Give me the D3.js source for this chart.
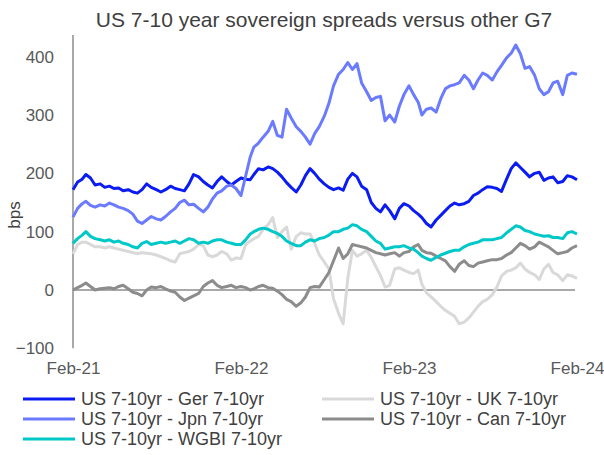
<!DOCTYPE html>
<html>
<head>
<meta charset="utf-8">
<script src="https://cdn.jsdelivr.net/npm/d3@7"></script>
<style>
  html, body { margin: 0; padding: 0; background: #ffffff; }
  svg { display: block; }
  text { font-family: "Liberation Sans", Arial, Helvetica, sans-serif; }
</style>
</head>
<body>
<svg id="chart" width="604" height="455"></svg>
<script>
// ---------------- DATA ----------------
const title = "US 7-10 year sovereign spreads versus other G7";
const yAxisLabel = "bps";
const xTickLabels = ["Feb-21", "Feb-22", "Feb-23", "Feb-24"];
const xTickDates = ["2021-02-01", "2022-02-01", "2023-02-01", "2024-02-01"];
const yTicks = [-100, 0, 100, 200, 300, 400];
// observations roughly every ten days (1st, 11th, 21st of each month), Feb-21 .. Feb-24
const sampleDays = [1, 11, 21];
const firstMonth = "2021-02";

const seriesNames = [
  "US 7-10yr - Ger 7-10yr",
  "US 7-10yr - UK 7-10yr",
  "US 7-10yr - Jpn 7-10yr",
  "US 7-10yr - Can 7-10yr",
  "US 7-10yr - WGBI 7-10yr"
];

const ger = [172,185,190,198,192,180,182,176,178,174,175,170,172,168,166,172,182,176,172,168,
  172,178,174,172,170,182,198,194,186,180,175,186,194,186,180,186,192,190,189,198,
  208,206,211,208,202,194,184,176,168,180,196,208,200,190,182,176,172,175,171,190,
  200,194,178,172,150,140,134,146,136,122,140,148,144,136,130,124,114,108,120,128,
  136,144,149,146,148,152,162,166,172,177,176,174,169,190,208,218,210,202,194,200,
  202,188,192,194,184,186,196,194,189];

const uk = [62,78,82,82,78,74,74,72,74,72,70,68,66,64,62,64,63,62,60,57,
  54,50,48,62,64,66,70,78,76,60,57,60,66,62,51,55,54,78,84,88,
  92,104,112,124,90,100,108,70,92,98,96,96,80,60,48,36,-15,-40,-58,20,
  68,58,62,68,56,40,25,5,8,36,38,34,30,28,34,10,-5,-12,-20,-28,
  -35,-40,-45,-58,-55,-48,-38,-28,-20,-16,-8,5,24,32,34,38,46,36,30,26,
  18,36,44,30,26,16,26,24,20];

const jpn = [125,140,148,152,145,142,146,144,149,146,142,140,136,130,118,114,120,126,122,120,
  126,134,140,150,154,146,147,140,134,142,156,166,170,178,180,174,162,195,228,245,
  252,262,272,289,265,262,310,295,280,272,262,250,268,280,298,320,350,370,378,390,
  378,388,355,340,325,330,332,290,300,288,315,335,350,335,322,300,310,312,305,328,
  345,350,352,355,368,360,345,360,372,368,360,374,385,398,406,420,405,380,383,368,
  345,335,340,355,358,335,368,372,370];

const can = [0,4,8,12,6,0,2,3,4,2,6,8,2,-4,-6,-10,0,5,4,6,
  2,-2,-4,-12,-18,-14,-10,-6,6,12,16,8,4,6,8,4,6,4,0,2,
  6,8,4,3,-2,-8,-16,-20,-28,-22,-12,4,6,5,18,30,50,72,54,62,
  78,76,74,72,68,64,62,60,62,64,58,64,66,74,78,68,64,63,58,54,
  50,40,32,44,50,42,40,46,48,50,52,52,54,60,64,72,80,76,70,74,
  82,78,74,68,62,64,66,72,76];

const wgbi = [80,88,94,100,92,88,86,84,86,82,84,80,78,74,72,80,83,78,80,82,
  80,82,84,80,84,88,86,80,82,80,84,86,86,82,80,78,78,86,96,100,
  104,106,104,100,97,92,84,80,76,76,82,86,84,88,90,94,100,100,104,106,
  112,110,104,100,92,84,80,70,72,74,74,76,72,70,64,58,54,51,56,60,
  63,66,68,68,74,78,80,82,86,86,86,88,90,98,104,110,108,102,100,96,
  94,92,93,90,90,88,98,100,96];

// ---------------- STYLE ----------------
const colors = ["#0A1CF2", "#D9D9D9", "#6B7BFF", "#8C8C8C", "#00C8C8"];
const seriesData = [ger, uk, jpn, can, wgbi];

const svg = d3.select("#chart");
const W = 604, H = 455;
const plot = { left: 73, right: 577, top: 35, yMinPx: 348.3, yMaxPx: 56.7 };

const parse = d3.utcParse("%Y-%m-%d");
const start = d3.utcParse("%Y-%m")(firstMonth);
function sampleDate(i) {
  const m = d3.utcMonth.offset(start, Math.floor(i / 3));
  return d3.utcDay.offset(m, sampleDays[i % 3] - 1);
}

const x = d3.scaleUtc()
  .domain([parse(xTickDates[0]), parse(xTickDates[xTickDates.length - 1])])
  .range([plot.left, plot.right]);
const y = d3.scaleLinear().domain([-100, 400]).range([plot.yMinPx, plot.yMaxPx]);

// title
svg.append("text")
  .attr("x", 324).attr("y", 27)
  .attr("text-anchor", "middle")
  .attr("font-size", 21)
  .attr("fill", "#404040")
  .text(title);

// y axis label
svg.append("text")
  .attr("transform", `translate(20,${215}) rotate(-90)`)
  .attr("text-anchor", "middle")
  .attr("font-size", 17)
  .attr("fill", "#404040")
  .text(yAxisLabel);

// y axis
const yAxis = d3.axisLeft(y).tickValues(yTicks).tickSize(0).tickPadding(19)
  .tickFormat(d3.format("d"));
const yg = svg.append("g").attr("transform", `translate(${plot.left},0)`).call(yAxis);
yg.select(".domain").remove();
yg.selectAll("text").attr("font-size", 17).attr("fill", "#595959")
  .attr("font-family", '"Liberation Sans", Arial, sans-serif');
svg.append("line")
  .attr("x1", plot.left).attr("x2", plot.left)
  .attr("y1", plot.top).attr("y2", y(-100))
  .attr("stroke", "#8C8C8C").attr("stroke-width", 1.5);

// x axis at zero
svg.append("line")
  .attr("x1", plot.left).attr("x2", x(parse(xTickDates[3])) - 2)
  .attr("y1", y(0)).attr("y2", y(0))
  .attr("stroke", "#8C8C8C").attr("stroke-width", 1.5);

// x tick labels at bottom
const xAxis = d3.axisBottom(x)
  .tickValues(xTickDates.map(parse))
  .tickSize(0).tickPadding(0)
  .tickFormat((d, i) => xTickLabels[i]);
const xg = svg.append("g").attr("transform", `translate(0,${361})`).call(xAxis);
xg.select(".domain").remove();
xg.selectAll("text").attr("font-size", 17).attr("fill", "#595959")
  .attr("dy", "0.75em")
  .attr("font-family", '"Liberation Sans", Arial, sans-serif');

// series lines
const line = d3.line()
  .x((d, i) => x(sampleDate(i)))
  .y(d => y(d));

seriesData.forEach((vals, k) => {
  svg.append("path")
    .datum(vals)
    .attr("d", line)
    .attr("fill", "none")
    .attr("stroke", colors[k])
    .attr("stroke-width", 3)
    .attr("stroke-linejoin", "round");
});

// legend
const legendPos = [
  { lx: 23, row: 0 }, { lx: 322, row: 0 },
  { lx: 23, row: 1 }, { lx: 322, row: 1 },
  { lx: 23, row: 2 }
];
const rowY = [399, 419, 439];
seriesNames.forEach((name, k) => {
  const p = legendPos[k];
  const cy = rowY[p.row];
  svg.append("line")
    .attr("x1", p.lx).attr("x2", p.lx + 52)
    .attr("y1", cy).attr("y2", cy)
    .attr("stroke", colors[k]).attr("stroke-width", 3);
  svg.append("text")
    .attr("x", p.lx + 58).attr("y", cy + 6)
    .attr("font-size", 18)
    .attr("fill", "#404040")
    .text(name);
});
</script>
</body>
</html>
